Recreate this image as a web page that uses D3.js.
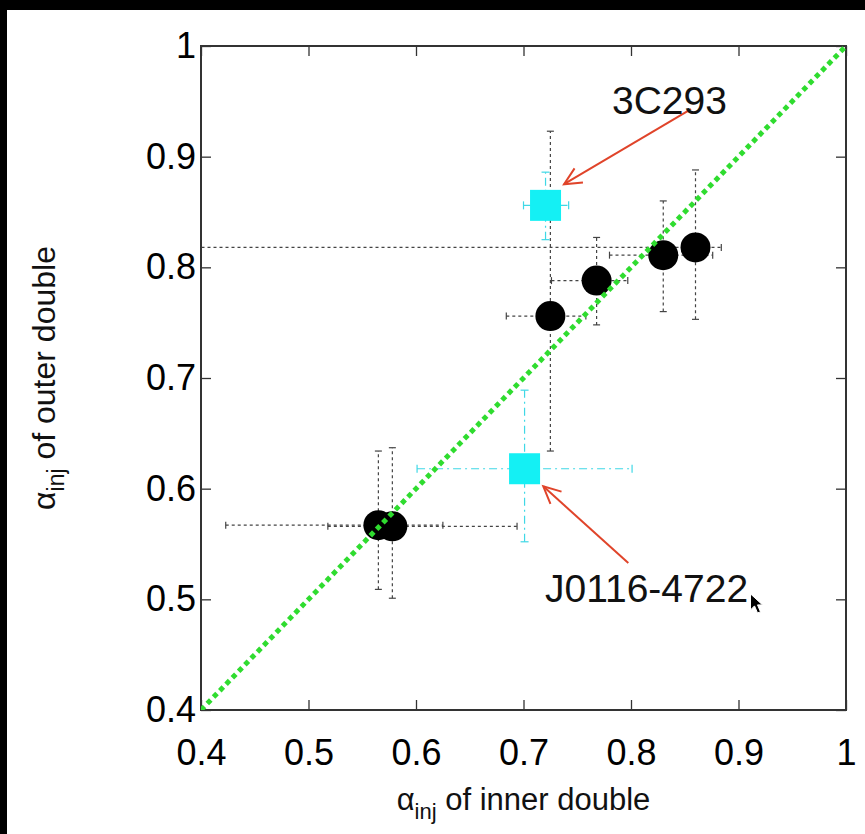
<!DOCTYPE html>
<html>
<head>
<meta charset="utf-8">
<script src="https://cdn.jsdelivr.net/npm/d3@7"></script>
<style>
  body { margin: 0; background: #fff; }
  svg { display: block; font-family: "Liberation Sans", Arial, Helvetica, sans-serif; }
</style>
</head>
<body>
<svg id="chart"></svg>
<script>
// tick values / labels
const tickValues = [0.4, 0.5, 0.6, 0.7, 0.8, 0.9, 1.0];
const tickLabels = ["0.4", "0.5", "0.6", "0.7", "0.8", "0.9", "1"];

// black circles: alpha_inj inner (x) vs outer (y), with error ranges
const blackX   = [0.565, 0.578, 0.725, 0.768, 0.830, 0.860];
const blackY   = [0.567, 0.566, 0.756, 0.788, 0.811, 0.818];
const blackXLo = [0.423, 0.518, 0.684, 0.726, 0.780, 0.300];
const blackXHi = [0.625, 0.694, 0.758, 0.797, 0.876, 0.884];
const blackYLo = [0.509, 0.501, 0.634, 0.748, 0.760, 0.753];
const blackYHi = [0.634, 0.637, 0.923, 0.827, 0.860, 0.888];

// cyan squares: 3C293 and J0116-4722
const cyanNames = ["3C293", "J0116-4722"];
const cyanX   = [0.7205, 0.701];
const cyanY   = [0.856, 0.618];
const cyanXLo = [0.700, 0.601];
const cyanXHi = [0.742, 0.801];
const cyanYLo = [0.825, 0.552];
const cyanYHi = [0.886, 0.689];

// annotation arrows (data units): tail -> tip, and label anchor
const arrowTailX = [0.8558, 0.7975];
const arrowTailY = [0.943, 0.5328];
const arrowTipX  = [0.7377, 0.7184];
const arrowTipY  = [0.8751, 0.6021];
const labelX = [0.7823, 0.720];
const labelY = [0.9385, 0.4977];

const W = 865, H = 834;
const plot = { left: 201, right: 846, top: 46, bottom: 710 };

var svg = d3.select('svg#chart')
    .attr('width', W)
    .attr('height', H)
    .attr('viewBox', '0 0 ' + W + ' ' + H);

svg.append('rect').attr('width', W).attr('height', H).style('fill', '#fff');
// dark screen edges of the captured frame
svg.append('rect').attr('x', 0).attr('y', 0).attr('width', W).attr('height', 10).style('fill', '#000');
svg.append('rect').attr('x', 0).attr('y', 0).attr('width', 7).attr('height', H).style('fill', '#000');

var x = d3.scaleLinear().domain([0.4, 1]).range([plot.left, plot.right]);
var y = d3.scaleLinear().domain([0.4, 1]).range([plot.bottom, plot.top]);

svg.append('clipPath').attr('id', 'plotclip')
    .append('rect')
    .attr('x', plot.left).attr('y', plot.top)
    .attr('width', plot.right - plot.left)
    .attr('height', plot.bottom - plot.top);

// axes with inward ticks on all four sides
function styleAxis(g){
    g.select('.domain').remove();
    g.selectAll('.tick line').style('stroke', '#333').style('stroke-width', 1.3);
    g.selectAll('.tick text')
        .style('font-family', '"Liberation Sans", Arial, sans-serif')
        .style('font-size', '36px')
        .style('fill', '#000');
}
var fmt = function(d, i){ return tickLabels[i]; };

svg.append('g')
    .attr('transform', 'translate(0,' + plot.bottom + ')')
    .call(d3.axisBottom(x).tickValues(tickValues).tickFormat(fmt)
        .tickSizeInner(-10).tickSizeOuter(0).tickPadding(29))
    .call(styleAxis);
svg.append('g')
    .attr('transform', 'translate(0,' + plot.top + ')')
    .call(d3.axisTop(x).tickValues(tickValues).tickFormat('')
        .tickSizeInner(-10).tickSizeOuter(0))
    .call(styleAxis);
svg.append('g')
    .attr('transform', 'translate(' + plot.left + ',0)')
    .call(d3.axisLeft(y).tickValues(tickValues).tickFormat(fmt)
        .tickSizeInner(-10).tickSizeOuter(0).tickPadding(5))
    .call(styleAxis);
svg.append('g')
    .attr('transform', 'translate(' + plot.right + ',0)')
    .call(d3.axisRight(y).tickValues(tickValues).tickFormat('')
        .tickSizeInner(-10).tickSizeOuter(0))
    .call(styleAxis);

// frame
svg.append('rect')
    .attr('x', plot.left).attr('y', plot.top)
    .attr('width', plot.right - plot.left)
    .attr('height', plot.bottom - plot.top)
    .style('fill', 'none')
    .style('stroke', '#333')
    .style('stroke-width', 2);

var layer = svg.append('g').attr('clip-path', 'url(#plotclip)');

// error bars
function errorBars(xs, ys, xlo, xhi, ylo, yhi, color, dash, cap){
    var g = layer.append('g')
        .style('stroke', color)
        .style('stroke-width', 1.2)
        .style('fill', 'none');
    xs.forEach(function(d, i){
        g.append('line')
            .attr('x1', x(xlo[i])).attr('x2', x(xhi[i]))
            .attr('y1', y(ys[i])).attr('y2', y(ys[i]))
            .style('stroke-dasharray', dash);
        g.append('line')
            .attr('x1', x(d)).attr('x2', x(d))
            .attr('y1', y(ylo[i])).attr('y2', y(yhi[i]))
            .style('stroke-dasharray', dash);
        [xlo[i], xhi[i]].forEach(function(v){
            g.append('line')
                .attr('x1', x(v)).attr('x2', x(v))
                .attr('y1', y(ys[i]) - cap).attr('y2', y(ys[i]) + cap);
        });
        [ylo[i], yhi[i]].forEach(function(v){
            g.append('line')
                .attr('x1', x(d) - cap).attr('x2', x(d) + cap)
                .attr('y1', y(v)).attr('y2', y(v));
        });
    });
}
errorBars(blackX, blackY, blackXLo, blackXHi, blackYLo, blackYHi, '#444', '3,3', 3.5);
errorBars(cyanX, cyanY, cyanXLo, cyanXHi, cyanYLo, cyanYHi, '#3fd8e6', '8,4,2,4', 4);

// black circles
layer.selectAll('circle.pt')
    .data(blackX)
    .enter()
    .append('circle')
    .attr('class', 'pt')
    .attr('cx', function(d){ return x(d); })
    .attr('cy', function(d, i){ return y(blackY[i]); })
    .attr('r', 15)
    .style('fill', '#000');

// cyan squares
var sq = 31;
layer.selectAll('rect.sq')
    .data(cyanX)
    .enter()
    .append('rect')
    .attr('class', 'sq')
    .attr('x', function(d){ return x(d) - sq / 2; })
    .attr('y', function(d, i){ return y(cyanY[i]) - sq / 2; })
    .attr('width', sq)
    .attr('height', sq)
    .style('fill', '#14f0f4');

// one-to-one line
layer.append('line')
    .attr('x1', x(0.4)).attr('y1', y(0.4))
    .attr('x2', x(1)).attr('y2', y(1))
    .style('stroke', '#2fdc2f')
    .style('stroke-width', 5)
    .style('stroke-dasharray', '5,4');

// annotation arrows
var arrows = svg.append('g')
    .style('stroke', '#e0442a')
    .style('stroke-width', 2)
    .style('fill', 'none');
arrowTipX.forEach(function(d, i){
    var tx = x(d), ty = y(arrowTipY[i]);
    var sx = x(arrowTailX[i]), sy = y(arrowTailY[i]);
    arrows.append('line').attr('x1', sx).attr('y1', sy).attr('x2', tx).attr('y2', ty);
    var ang = Math.atan2(sy - ty, sx - tx);
    var len = 19, spread = 0.45;
    arrows.append('path')
        .attr('d', 'M' + (tx + len * Math.cos(ang - spread)) + ',' + (ty + len * Math.sin(ang - spread)) +
                   'L' + tx + ',' + ty +
                   'L' + (tx + len * Math.cos(ang + spread)) + ',' + (ty + len * Math.sin(ang + spread)));
});

svg.selectAll('text.lbl')
    .data(cyanNames)
    .enter()
    .append('text')
    .attr('class', 'lbl')
    .attr('x', function(d, i){ return x(labelX[i]); })
    .attr('y', function(d, i){ return y(labelY[i]); })
    .style('font-size', '39px')
    .style('fill', '#111')
    .text(function(d){ return d; });

// axis titles
var xt = svg.append('text')
    .attr('x', (plot.left + plot.right) / 2)
    .attr('y', 810)
    .attr('text-anchor', 'middle')
    .style('font-size', '31px')
    .style('fill', '#111');
xt.append('tspan').text('\u03b1');
xt.append('tspan').attr('dy', 9).style('font-size', '22px').text('inj');
xt.append('tspan').attr('dy', -9).text(' of inner double');

var yt = svg.append('text')
    .attr('transform', 'translate(55,' + ((plot.top + plot.bottom) / 2) + ') rotate(-90)')
    .attr('text-anchor', 'middle')
    .style('font-size', '32px')
    .style('fill', '#111');
yt.append('tspan').text('\u03b1');
yt.append('tspan').attr('dy', 9).style('font-size', '23px').text('inj');
yt.append('tspan').attr('dy', -9).text(' of outer double');

// mouse pointer captured in the screenshot, just after the J0116-4722 label
svg.append('path')
    .attr('transform', 'translate(' + (x(0.9) + 12) + ',' + (y(0.4977) - 8) + ')')
    .attr('d', 'M0,0 L0,16 L4,12 L7,19 L10,18 L7,11 L12,11 Z')
    .style('fill', '#000')
    .style('stroke', '#fff')
    .style('stroke-width', 1);
</script>
</body>
</html>
